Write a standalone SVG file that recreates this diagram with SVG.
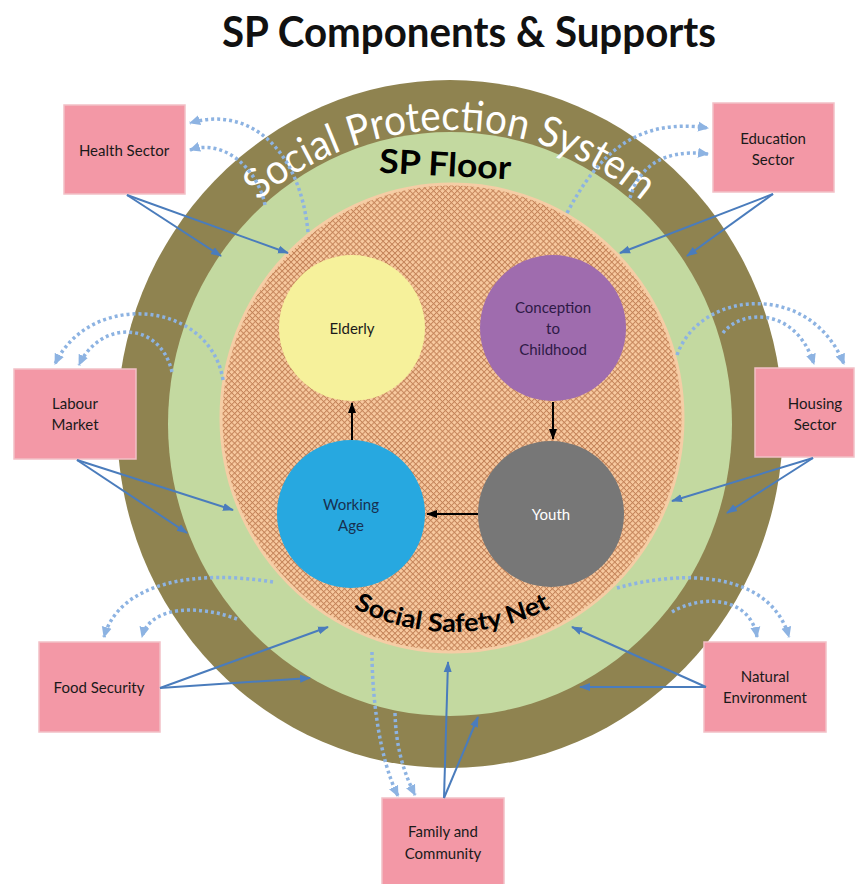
<svg xmlns="http://www.w3.org/2000/svg" width="864" height="884" viewBox="0 0 864 884">
<defs>
<style>
.box{fill:#f398a6;stroke:#f2c0c6;stroke-width:1.5}
.lbl{font-family:Lato,"Liberation Sans",sans-serif;font-size:15px;fill:#1a1a1a;text-anchor:middle}
.solid{fill:none;stroke:#4a7cbc;stroke-width:2;marker-end:url(#ah)}
.dot{fill:none;stroke:#8db3e2;stroke-width:3.5;stroke-dasharray:3 3;marker-end:url(#dh)}
.blk{fill:none;stroke:#000;stroke-width:2;marker-end:url(#bh)}
</style>
<pattern id="hatch" width="4.2" height="4.2" patternUnits="userSpaceOnUse" patternTransform="rotate(45)">
<rect width="4.2" height="4.2" fill="#f8caa0"/>
<rect width="4.2" height="1" fill="#c4845a"/>
<rect width="1" height="4.2" fill="#c4845a"/>
</pattern>
<marker id="ah" markerWidth="12" markerHeight="10" refX="10" refY="5" orient="auto" markerUnits="userSpaceOnUse"><path d="M0,1 L11,5 L0,9 Z" fill="#4a7cbc"/></marker>
<marker id="dh" markerWidth="12" markerHeight="12" refX="10" refY="6" orient="auto" markerUnits="userSpaceOnUse"><path d="M0,1 L11,6 L0,11 Z" fill="#8db3e2"/></marker>
<marker id="bh" markerWidth="12" markerHeight="10" refX="10" refY="5" orient="auto" markerUnits="userSpaceOnUse"><path d="M0,1 L11,5 L0,9 Z" fill="#000"/></marker>
<path id="arcSPS" d="M156,424 A294,294 0 0 1 744,424"/>
<path id="arcNet" d="M238,418 A214,214 0 0 0 666,418"/>
</defs>

<text x="469" y="47" font-family="Lato,'Liberation Sans',sans-serif" font-weight="700" font-size="42" text-anchor="middle" textLength="494" lengthAdjust="spacingAndGlyphs" fill="#111">SP Components &amp; Supports</text>

<g id="rings">
<ellipse cx="450" cy="424" rx="333" ry="344" fill="#8f8350"/>
<ellipse cx="450" cy="424" rx="282" ry="292" fill="#c3d9a0"/>
<ellipse cx="452" cy="418" rx="231" ry="234" fill="url(#hatch)" stroke="#f5cda5" stroke-width="3"/>
<text font-family="Lato,'Liberation Sans',sans-serif" font-size="42" fill="#ffffff"><textPath href="#arcSPS" startOffset="50%" text-anchor="middle" textLength="418" lengthAdjust="spacingAndGlyphs">Social Protection System</textPath></text>
<text x="445" y="176" font-family="Lato,'Liberation Sans',sans-serif" font-weight="700" font-size="33" text-anchor="middle" textLength="132" lengthAdjust="spacingAndGlyphs" fill="#000" transform="rotate(3 445 168)">SP Floor</text>
<text font-family="Lato,'Liberation Sans',sans-serif" font-weight="700" font-size="25" fill="#000"><textPath href="#arcNet" startOffset="50%" text-anchor="middle" textLength="205" lengthAdjust="spacingAndGlyphs">Social Safety Net</textPath></text>
</g>

<g id="elderly">
<circle cx="352" cy="328" r="73" fill="#f6f19b"/>
<text class="lbl" x="352" y="334" fill="#333">Elderly</text>
</g>
<g id="conception">
<circle cx="553" cy="328" r="73" fill="#9f6cae"/>
<text class="lbl" x="553" y="313" style="fill:#2e1a46">Conception</text>
<text class="lbl" x="553" y="334" style="fill:#2e1a46">to</text>
<text class="lbl" x="553" y="355" style="fill:#2e1a46">Childhood</text>
</g>
<g id="working">
<circle cx="351" cy="514" r="74" fill="#27a8e0"/>
<text class="lbl" x="351" y="510" style="fill:#173050">Working</text>
<text class="lbl" x="351" y="531" style="fill:#173050">Age</text>
</g>
<g id="youth">
<circle cx="551" cy="514" r="73" fill="#777777"/>
<text class="lbl" x="551" y="520" style="fill:#ffffff">Youth</text>
</g>

<g id="health"><rect class="box" x="64" y="105" width="121" height="89"/><text class="lbl" x="124" y="156">Health Sector</text></g>
<g id="education"><rect class="box" x="713" y="103" width="121" height="89"/><text class="lbl" x="773" y="144">Education</text><text class="lbl" x="773" y="165">Sector</text></g>
<g id="labour"><rect class="box" x="14" y="369" width="122" height="90"/><text class="lbl" x="75" y="409">Labour</text><text class="lbl" x="75" y="430">Market</text></g>
<g id="housing"><rect class="box" x="755" y="368" width="99" height="89"/><text class="lbl" x="815" y="409">Housing</text><text class="lbl" x="815" y="430">Sector</text></g>
<g id="food"><rect class="box" x="39" y="642" width="121" height="90"/><text class="lbl" x="99" y="693">Food Security</text></g>
<g id="natural"><rect class="box" x="704" y="642" width="122" height="90"/><text class="lbl" x="765" y="682">Natural</text><text class="lbl" x="765" y="703">Environment</text></g>
<g id="family"><rect class="box" x="382" y="798" width="122" height="90"/><text class="lbl" x="443" y="837">Family and</text><text class="lbl" x="443" y="859">Community</text></g>

<g id="connectors">
<path class="blk" d="M553,402 L553,439"/>
<path class="blk" d="M478,514 L427,514"/>
<path class="blk" d="M352,440 L352,403"/>

<path class="solid" d="M127,195 L221,256"/>
<path class="solid" d="M127,195 L288,253"/>
<path class="solid" d="M773,194 L620,253"/>
<path class="solid" d="M773,194 L687,256"/>
<path class="solid" d="M77,460 L233,510"/>
<path class="solid" d="M77,460 L187,533"/>
<path class="solid" d="M813,458 L672,501"/>
<path class="solid" d="M813,458 L727,513"/>
<path class="solid" d="M160,688 L328,627"/>
<path class="solid" d="M160,688 L310,678"/>
<path class="solid" d="M706,687 L572,627"/>
<path class="solid" d="M706,687 L580,687"/>
<path class="solid" d="M444,798 L448,662"/>
<path class="solid" d="M444,798 L478,717"/>

<path class="dot" d="M308,232 C300,150 250,105 190,123"/>
<path class="dot" d="M265,205 C258,170 225,138 190,150"/>
<path class="dot" d="M567,213 C600,150 640,118 708,128"/>
<path class="dot" d="M630,198 C638,170 660,148 708,154"/>
<path class="dot" d="M223,380 C210,300 90,290 55,364"/>
<path class="dot" d="M172,372 C160,320 100,320 79,365"/>
<path class="dot" d="M677,355 C700,290 810,280 844,364"/>
<path class="dot" d="M723,333 C740,310 795,305 814,364"/>
<path class="dot" d="M273,582 C200,570 120,580 104,637"/>
<path class="dot" d="M237,619 C200,605 150,605 142,637"/>
<path class="dot" d="M617,588 C680,570 770,570 789,637"/>
<path class="dot" d="M672,612 C700,595 750,595 757,637"/>
<path class="dot" d="M372,652 C372,700 380,760 398,796"/>
<path class="dot" d="M395,713 C396,750 405,775 415,795"/>
</g>
</svg>
